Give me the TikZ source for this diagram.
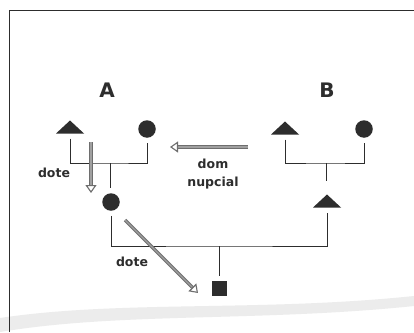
\documentclass[tikz,border=0pt]{standalone}
\usepackage{fontspec}
\setmainfont{DejaVu Sans}
\usetikzlibrary{shapes.geometric, arrows.meta}
\definecolor{ink}{RGB}{45,45,45}
\definecolor{flow}{RGB}{110,110,110}
\definecolor{flowcore}{RGB}{160,160,160}
\definecolor{haze}{RGB}{228,228,228}

\begin{document}
\begin{tikzpicture}[x=1pt, y=-1pt,
  person/.style={fill=ink, draw=none, inner sep=0pt, outer sep=5pt},
  male/.style={person, isosceles triangle, shape border rotate=90,
    isosceles triangle stretches, minimum width=28pt, minimum height=13pt},
  female/.style={person, circle, minimum size=17.5pt},
  offspring/.style={person, rectangle, minimum size=15pt},
  kin/.style={draw=ink, line width=0.8pt},
  transfer/.style={draw=flow, line width=1pt, double=flowcore, double distance=1.4pt,
    -{Triangle[open, length=8pt, width=11pt, line width=1.1pt]}},
  lbl/.style={font=\bfseries\fontsize{12.5}{18}\selectfont, text=ink,
    align=center, inner sep=0pt},
  grp/.style={font=\bfseries\fontsize{20}{22}\selectfont, text=ink, inner sep=0pt}
]
\useasboundingbox (0,0) rectangle (414,332);
\fill[white] (0,0) rectangle (414,332);

% faint sweep across the lower part of the page
\fill[haze, opacity=0.7] (0,318) .. controls (120,300) and (260,312) .. (414,296)
  -- (414,306) .. controls (260,322) and (120,312) .. (0,332) -- cycle;

% frame
\draw[ink, line width=0.9pt] (9,332) -- (9,10) -- (414,10);

% group labels
\node[grp] (labA) at (107,90) {A};
\node[grp] (labB) at (327,90) {B};

% family A
\node[male]   (mA) at (70,128) {};
\node[female] (fA) at (147,129) {};
\node[female] (dA) at (111,202) {};
\coordinate (uA) at (110,163);
\draw[kin] (mA.south) |- (uA) -| (fA.south);
\draw[kin] (uA) -- (uA |- dA.north);

% family B
\node[male]   (mB) at (285,129) {};
\node[female] (fB) at (364,129) {};
\node[male]   (sB) at (327,202) {};
\coordinate (uB) at (326,163);
\draw[kin] (mB.south) |- (uB) -| (fB.south);
\draw[kin] (uB) -- (uB |- sB.north);

% marriage of the two children
\node[offspring] (kid) at (219,288) {};
\coordinate (uC) at (219,246);
\draw[kin] (dA.south) |- (uC) -| (sB.south);
\draw[kin] (uC) -- (kid.north);

% transfers
\coordinate (d1s) at (91,142);
\coordinate (d1e) at (91,193);
\draw[transfer] (d1s) -- (d1e);
\node[lbl] (dote1) at (54,173) {dote};

\coordinate (dns) at (248,147);
\coordinate (dne) at (170,147);
\draw[transfer] (dns) -- (dne);
\node[lbl] (dom) at (213,174) {dom\\nupcial};

\coordinate (d2s) at (125,220);
\coordinate (d2e) at (198,293);
\draw[transfer] (d2s) -- (d2e);
\node[lbl] (dote2) at (132,262) {dote};
\end{tikzpicture}
\end{document}
